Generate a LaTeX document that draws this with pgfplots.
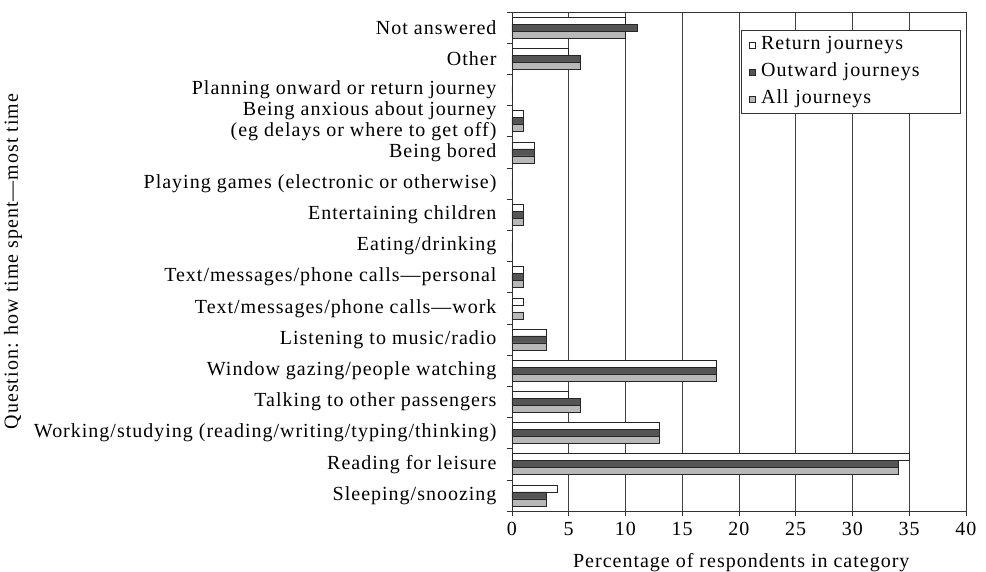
\documentclass[border=0pt]{standalone}
\usepackage{fontspec}
\setmainfont{Liberation Serif}[LetterSpace=5]
\usepackage{pgfplots}
\pgfplotsset{compat=1.18}
\usepackage{pgfplotstable}

\pgfplotstableread{
idx R O A
0 4 3 3
1 35 34 34
2 13 13 13
3 5 6 6
4 18 18 18
5 3 3 3
6 1 0 1
7 1 1 1
8 0 0 0
9 1 1 1
10 0 0 0
11 2 2 2
12 1 1 1
13 0 0 0
14 5 6 6
15 10 11 10
}\data

\definecolor{darkbar}{HTML}{555555}
\definecolor{lightbar}{HTML}{B8B8B8}
\newcommand\f{\fontsize{20}{21}\selectfont}

\begin{document}
\begin{tikzpicture}
\begin{axis}[
 at={(0pt,0pt)}, anchor=south west,
 scale only axis, width=454pt, height=499pt,
 xbar, bar width=7pt,
 xmin=0, xmax=40, ymin=-0.5, ymax=15.5,
 xtick={0,5,...,40},
 ytick={0,...,15},
 yticklabels={Sleeping/snoozing,
   Reading for leisure,
   Working/studying (reading/writing/typing/thinking),
   Talking to other passengers,
   Window gazing/people watching,
   Listening to music/radio,
   Text/messages/phone calls—work,
   Text/messages/phone calls—personal,
   Eating/drinking,
   Entertaining children,
   Playing games (electronic or otherwise),
   Being bored,
   {Being anxious about journey\\(eg delays or where to get off)},
   Planning onward or return journey,
   Other,
   Not answered},
 minor ytick={-0.5,0.5,...,15.5},
 tick align=outside,
 xtick pos=bottom, ytick pos=left,
 major y tick style={draw=none},
 major tick length=5pt, minor tick length=5pt,
 every tick/.style={black!80, line width=0.6pt},
 xmajorgrids, grid style={black!75, line width=0.6pt},
 axis line style={black!80, line width=0.8pt},
 /pgf/number format/assume math mode=true,
 xticklabel style={font=\f, yshift=-3pt},
 yticklabel style={font=\f, align=right, xshift=-7pt},
 label style={font=\f},
 xlabel={Percentage of respondents in category},
 ylabel={Question: how time spent—most time},
 xlabel style={at={(axis description cs:0.505,-0.104)}, anchor=center},
 ylabel style={at={(axis description cs:-1.099,0.5)}, anchor=center},
 legend cell align=left,
 legend style={at={(axis description cs:0.504,0.964)}, anchor=north west,
   font=\f, draw=black!80, line width=0.6pt, row sep=2pt, inner sep=2pt,
   nodes={text height=14pt, text depth=5pt, inner sep=3pt, text width=194pt}},
 legend image code/.code={\path[draw=none, fill=none] (-1pt,0pt) -- (14pt,0pt);
   \draw[#1, line width=0.5pt] (5pt,-3pt) rectangle (11pt,3pt);},
]
\addplot[draw=black!85, fill=white, line width=0.5pt, bar shift=7pt] table[x=R, y=idx] {\data};
\addlegendentry{Return journeys}
\addplot[draw=black!85, fill=darkbar, line width=0.5pt, bar shift=0pt] table[x=O, y=idx] {\data};
\addlegendentry{Outward journeys}
\addplot[draw=black!85, fill=lightbar, line width=0.5pt, bar shift=-7pt] table[x=A, y=idx] {\data};
\addlegendentry{All journeys}
\end{axis}
\pgfresetboundingbox
\path[use as bounding box] (-512pt,-61pt) rectangle (474pt,511pt);
\end{tikzpicture}
\end{document}
